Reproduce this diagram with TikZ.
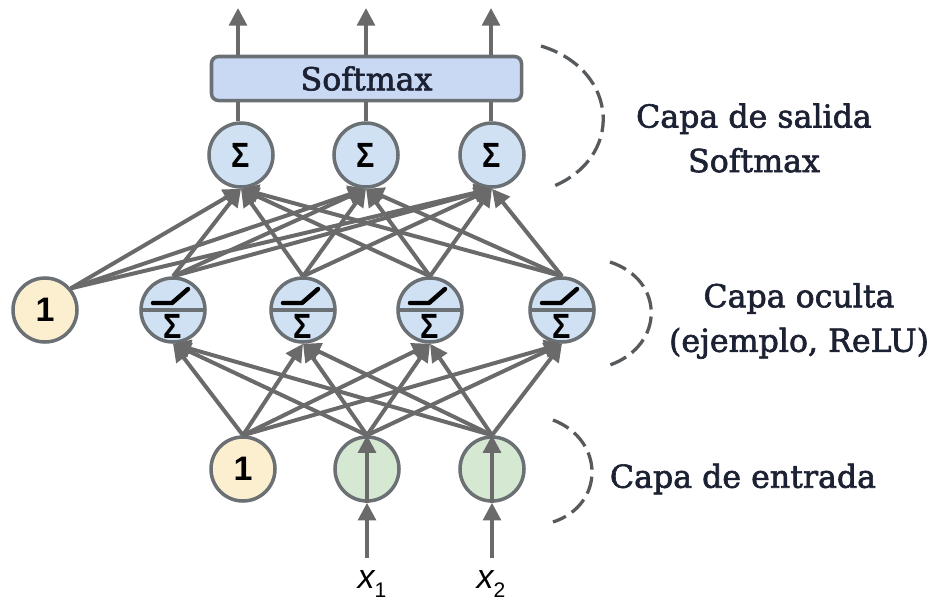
\documentclass[tikz,border=0pt]{standalone}
\usepackage{fontspec}
\usetikzlibrary{arrows.meta}
\setmainfont{Liberation Sans}
\newfontfamily\slabfont[FakeBold=2]{DejaVu Serif}
\definecolor{edgegray}{HTML}{6A6A6A}
\definecolor{rimgray}{HTML}{6B7074}
\definecolor{unitblue}{HTML}{CFE1F3}
\definecolor{boxblue}{HTML}{C9D8F3}
\definecolor{biasyellow}{HTML}{FCEFCF}
\definecolor{inputgreen}{HTML}{D5E8D2}
\definecolor{inkblue}{HTML}{1C2233}
\newcommand{\sumsign}{\scalebox{1}[1.15]{\fontsize{26}{26}\selectfont\bfseries\char"03A3}}
\tikzset{
  unit/.style={circle,draw=rimgray,line width=3pt,minimum size=1.92cm,inner sep=0pt},
  sumunit/.style={unit,fill=unitblue},
  biasunit/.style={unit,fill=biasyellow,font=\fontsize{29}{29}\selectfont\bfseries},
  inputunit/.style={unit,fill=inputgreen},
  hiddenunit/.style={sumunit,path picture={
    \draw [rimgray,line width=3pt] (path picture bounding box.west) -- (path picture bounding box.east);
    \draw [black,line width=3.8pt,line cap=round,line join=round] ([shift={(-20,7)}]path picture bounding box.center) -- ++(19,0) -- ++(16,14);
  }},
  edge/.style={draw=edgegray,line width=3.4pt,-{Triangle[length=15pt,width=15pt]}},
  link/.style={draw=edgegray,line width=3.4pt},
  layertext/.style={font=\slabfont\fontsize{27}{38}\selectfont,text=inkblue,align=center},
  bracket/.style={draw=rimgray!80!black,line width=2.8pt,dash pattern=on 15pt off 6pt}
}
\begin{document}
\begin{tikzpicture}[x=0.03cm,y=0.03cm]
\useasboundingbox (0,0) rectangle (933,-604);
\node [sumunit] (o1) at (241,-155) {\sumsign};
\node [sumunit] (o2) at (366,-155) {\sumsign};
\node [sumunit] (o3) at (492,-155) {\sumsign};
\node [draw=rimgray,fill=boxblue,line width=3pt,rounded corners=6pt,minimum width=9.3cm,minimum height=1.32cm,font=\slabfont\fontsize{27}{27}\selectfont,text=inkblue] (sm) at (366.5,-78.5) {Softmax};
\node [biasunit] (b1) at (45,-310) {1};
\node [hiddenunit] (h1) at (173,-310) {\smash{\raisebox{-24pt}{\sumsign}}};
\node [hiddenunit] (h2) at (303,-310) {\smash{\raisebox{-24pt}{\sumsign}}};
\node [hiddenunit] (h3) at (430,-310) {\smash{\raisebox{-24pt}{\sumsign}}};
\node [hiddenunit] (h4) at (562,-310) {\smash{\raisebox{-24pt}{\sumsign}}};
\node [biasunit] (b0) at (243,-469) {1};
\node [inputunit] (i1) at (367,-469) {};
\node [inputunit] (i2) at (492,-469) {};
\node [font=\fontsize{29}{29}\selectfont\itshape] (x1) at (372,-584) {x\raisebox{-8pt}{\upshape\fontsize{18}{18}\selectfont 1}};
\node [font=\fontsize{29}{29}\selectfont\itshape] (x2) at (491,-584) {x\raisebox{-8pt}{\upshape\fontsize{18}{18}\selectfont 2}};
\coordinate (t1) at (238,-8);
\coordinate (t2) at (366,-8);
\coordinate (t3) at (491,-8);
\coordinate (s1) at (367,-558);
\coordinate (s2) at (492,-558);
\draw [edge] (t1 |- sm.north) -- (t1);
\draw [edge] (t2 |- sm.north) -- (t2);
\draw [edge] (t3 |- sm.north) -- (t3);
\draw [link] (o1.north -| t1) -- (t1 |- sm.south);
\draw [link] (o2.north -| t2) -- (t2 |- sm.south);
\draw [link] (o3.north -| t3) -- (t3 |- sm.south);
\draw [edge] (b1.40) -- (o1.south);
\draw [edge] (b1.40) -- (o2.south);
\draw [edge] (b1.40) -- (o3.south);
\draw [edge] (h1.north) -- (o1.south);
\draw [edge] (h1.north) -- (o2.south);
\draw [edge] (h1.north) -- (o3.south);
\draw [edge] (h2.north) -- (o1.south);
\draw [edge] (h2.north) -- (o2.south);
\draw [edge] (h2.north) -- (o3.south);
\draw [edge] (h3.north) -- (o1.south);
\draw [edge] (h3.north) -- (o2.south);
\draw [edge] (h3.north) -- (o3.south);
\draw [edge] (h4.north) -- (o1.south);
\draw [edge] (h4.north) -- (o2.south);
\draw [edge] (h4.north) -- (o3.south);
\draw [edge] (b0.north) -- (h1.south);
\draw [edge] (b0.north) -- (h2.south);
\draw [edge] (b0.north) -- (h3.south);
\draw [edge] (b0.north) -- (h4.south);
\draw [edge] (i1.north) -- (h1.south);
\draw [edge] (i1.north) -- (h2.south);
\draw [edge] (i1.north) -- (h3.south);
\draw [edge] (i1.north) -- (h4.south);
\draw [edge] (i2.north) -- (h1.south);
\draw [edge] (i2.north) -- (h2.south);
\draw [edge] (i2.north) -- (h3.south);
\draw [edge] (i2.north) -- (h4.south);
\draw [edge] (s1) -- (i1.south);
\draw [edge] (s2) -- (i2.south);
\draw [edge] (i1.south) -- (i1.north);
\draw [edge] (i2.south) -- (i2.north);
\draw [bracket] (541,-46) .. controls (620,-70) and (625,-160) .. (549,-188);
\draw [bracket] (610,-262) .. controls (665,-280) and (665,-345) .. (610,-365);
\draw [bracket] (553,-420) .. controls (605,-440) and (605,-505) .. (553,-522);
\node [layertext] (outlabel) at (754,-138) {Capa de salida\\Softmax};
\node [layertext] (hidlabel) at (799,-321) {Capa oculta\\(ejemplo, ReLU)};
\node [layertext] (inlabel) at (743,-479) {Capa de entrada};
\end{tikzpicture}
\end{document}
